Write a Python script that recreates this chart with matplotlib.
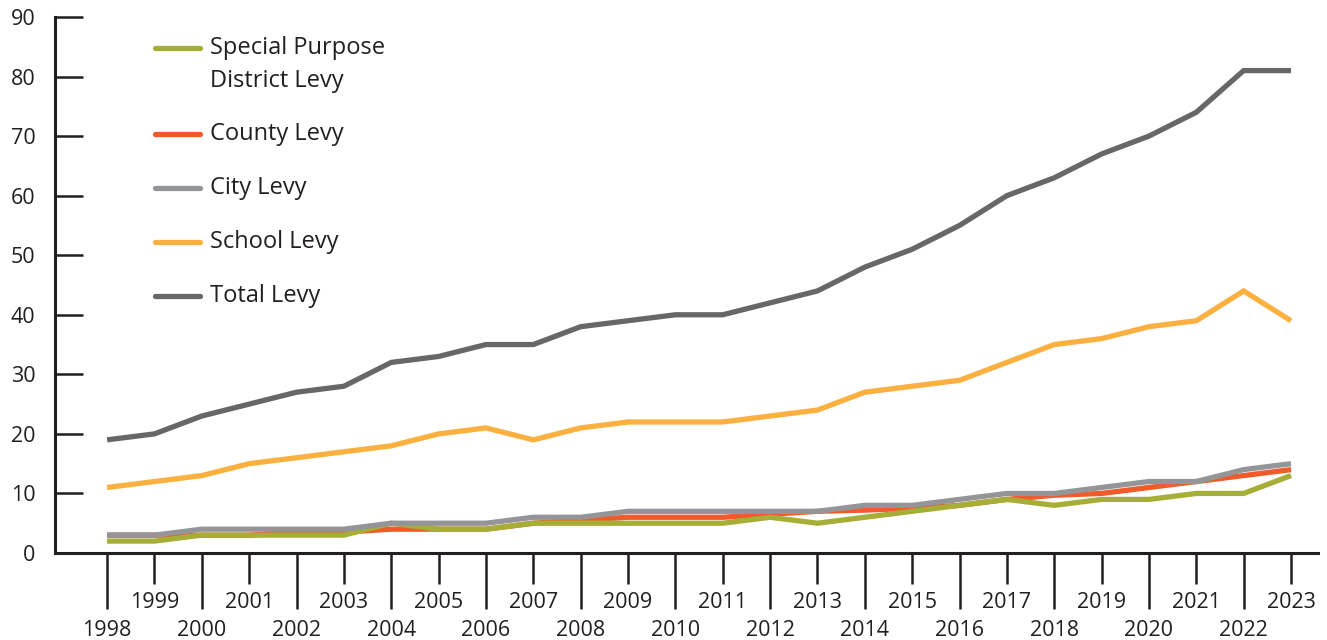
import numpy as np
import matplotlib
matplotlib.use('Agg')
import matplotlib.pyplot as plt
from matplotlib.ticker import MultipleLocator

plt.rcParams['font.family'] = ['Open Sans', 'DejaVu Sans']

years = list(range(1998, 2024))
special = [2, 2, 3, 3, 3, 3, 5, 4, 4, 5, 5, 5, 5, 5, 6, 5, 6, 7, 8, 9, 8, 9, 9, 10, 10, 13]
county = [3, 3, 3, 3, 3.5, 3.5, 4, 4, 4, 5, 5.5, 6, 6, 6, 6.5, 7, 7.2, 7.5, 8, 9, 9.7, 10, 11, 12, 13, 14]
city = [3, 3, 4, 4, 4, 4, 5, 5, 5, 6, 6, 7, 7, 7, 7, 7, 8, 8, 9, 10, 10, 11, 12, 12, 14, 15]
school = [11, 12, 13, 15, 16, 17, 18, 20, 21, 19, 21, 22, 22, 22, 23, 24, 27, 28, 29, 32, 35, 36, 38, 39, 44, 39]
total = [19, 20, 23, 25, 27, 28, 32, 33, 35, 35, 38, 39, 40, 40, 42, 44, 48, 51, 55, 60, 63, 67, 70, 74, 81, 81]

series = [
    ('Special Purpose\nDistrict Levy', special, '#A6AE38'),
    ('County Levy', county, '#F15A29'),
    ('City Levy', city, '#939598'),
    ('School Levy', school, '#FBB040'),
    ('Total Levy', total, '#666769'),
]
dark = '#231F20'

fig = plt.figure(figsize=(13.27, 6.4), dpi=100)
ax = fig.add_axes([55 / 1327, 1 - 553 / 640, 1263 / 1327, 536 / 640])

# draw order: county under special, city over both
for idx in [1, 0, 2, 3, 4]:
    name, vals, col = series[idx]
    ax.plot(years, vals, color=col, lw=3.8, solid_joinstyle='miter', solid_capstyle='butt')

ax.set_xlim(1996.9, 2023.57)
ax.set_ylim(0, 90)

for s in ['top', 'right']:
    ax.spines[s].set_visible(False)
for s in ['left', 'bottom']:
    ax.spines[s].set_linewidth(2.2)
    ax.spines[s].set_color(dark)

ax.yaxis.set_major_locator(MultipleLocator(10))
ax.tick_params(axis='y', direction='in', length=20, width=1.8, color=dark,
               labelsize=15.5, labelcolor=dark, pad=14)

ax.set_xticks(years[::2])
ax.set_xticks(years[1::2], minor=True)
ax.set_xticklabels([str(y) for y in years[::2]])
ax.set_xticklabels([str(y) for y in years[1::2]], minor=True)
ax.tick_params(axis='x', which='major', direction='out', length=40, width=1.8,
               color=dark, labelsize=15.5, labelcolor=dark, pad=8)
ax.tick_params(axis='x', which='minor', direction='out', length=22, width=1.8,
               color=dark, labelsize=15.5, labelcolor=dark, pad=6)

# legend drawn by hand
leg_y = [0.912, 0.782, 0.681, 0.580, 0.479]
line_y = [0.942, 0.782, 0.681, 0.580, 0.479]
for (name, vals, col), ty, ly in zip(series, leg_y, line_y):
    ax.plot([0.079, 0.115], [ly, ly], color=col, lw=3.8, solid_capstyle='round',
            transform=ax.transAxes)
    ax.text(0.1227, ty, name, transform=ax.transAxes, va='center', ha='left',
            fontsize=17, color=dark, linespacing=1.5)

fig.savefig('out.png', dpi=100)
